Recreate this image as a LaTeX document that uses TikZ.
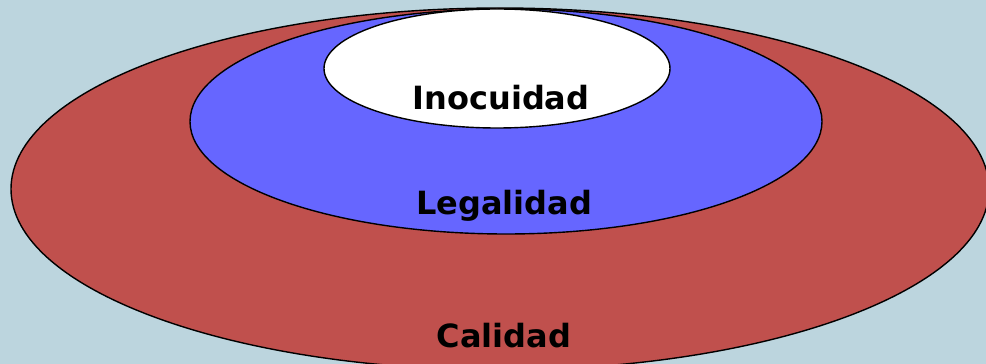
\documentclass[tikz,border=0pt]{standalone}
\usepackage{fontspec}
\setmainfont{DejaVu Sans}
\usepackage{tikz}
\usetikzlibrary{positioning}
\usetikzlibrary{shapes.geometric}
\definecolor{fondo}{RGB}{188,213,222}
\definecolor{rojo}{RGB}{192,80,77}
\definecolor{azul}{RGB}{102,102,255}
\tikzstyle{capa} = [ellipse, draw=black, line width=0.7pt, inner sep=0pt]
\tikzstyle{etiqueta} = [anchor=base, inner sep=0pt, font=\fontsize{16}{19}\selectfont\bfseries]

\begin{document}
\begin{tikzpicture}[x=0.5pt, y=0.5pt]
			\fill[fondo] (0,0) rectangle (986,364);
			\useasboundingbox (0,0) rectangle (986,364);
			\begin{scope}
			\clip (0,0) rectangle (986,364);
			\node (calidad) [capa, fill=rojo, minimum width=489pt, minimum height=181pt] at (500,175) {};
			\end{scope}
			\node (legalidad) [capa, fill=azul, minimum width=316pt, minimum height=112.5pt] at (506,242.5) {};
			\node (inocuidad) [capa, fill=white, minimum width=173pt, minimum height=59.5pt] at (497,295.5) {};
			\node (tcal) [etiqueta] at (504,16) {Calidad};
			\node (tleg) [etiqueta] at (504,149) {Legalidad};
			\node (tino) [etiqueta] at (501,254) {Inocuidad};
		\end{tikzpicture}
\end{document}
